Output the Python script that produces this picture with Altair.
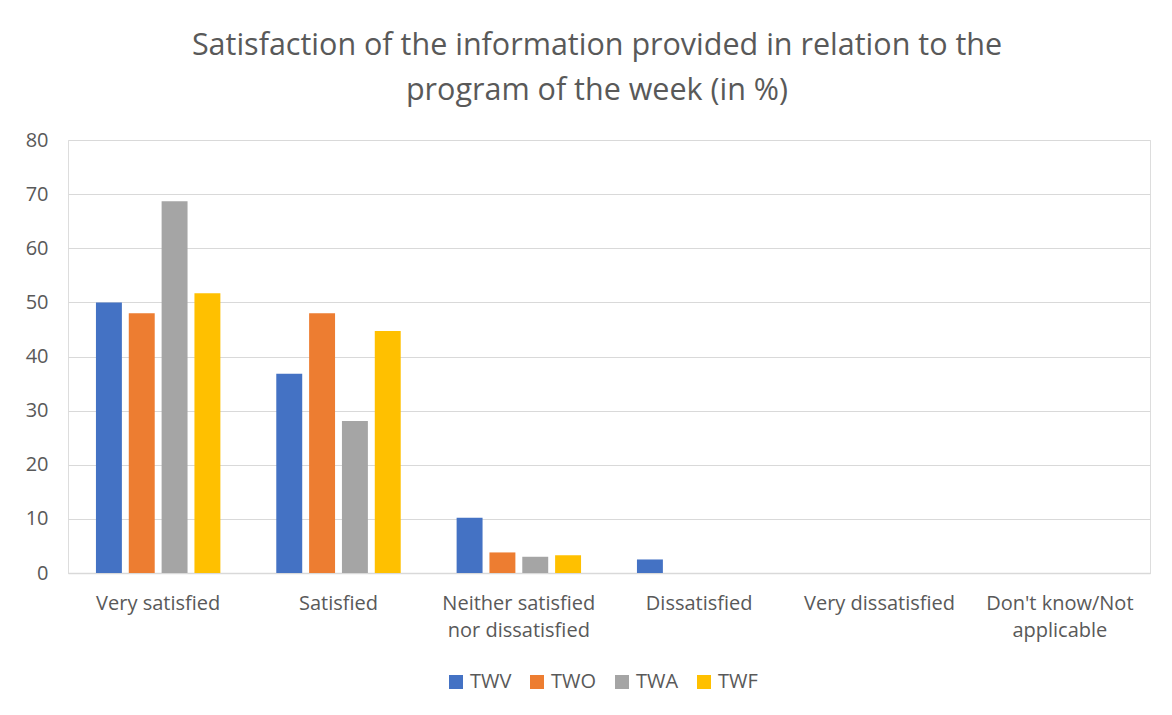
import altair as alt
import pandas as pd

categories = ["Very satisfied", "Satisfied", "Neither satisfied nor dissatisfied",
              "Dissatisfied", "Very dissatisfied", "Don't know/Not applicable"]
series = ["TWV", "TWO", "TWA", "TWF"]
twv = [50.0, 36.8, 10.2, 2.5, 0, 0]
two = [48.0, 48.0, 3.8, 0, 0, 0]
twa = [68.7, 28.1, 3.0, 0, 0, 0]
twf = [51.7, 44.7, 3.3, 0, 0, 0]
colors = ["#4472C4", "#ED7D31", "#A5A5A5", "#FFC000"]

rows = []
for s, vals in zip(series, [twv, two, twa, twf]):
    for c, v in zip(categories, vals):
        rows.append({"category": c, "series": s, "value": v})
df = pd.DataFrame(rows)

FONT = "Open Sans"
GRAY = "#595959"

label_expr = ("datum.label == 'Neither satisfied nor dissatisfied' ? ['Neither satisfied', 'nor dissatisfied'] : "
              "datum.label == \"Don't know/Not applicable\" ? ['Don\\'t know/Not', 'applicable'] : datum.label")

chart = alt.Chart(df).mark_bar().encode(
    x=alt.X("category:N", sort=categories, title=None,
            scale=alt.Scale(paddingInner=0.31, paddingOuter=0.155),
            axis=alt.Axis(labelAngle=0, labelExpr=label_expr, labelFontSize=20,
                          labelColor=GRAY, labelFont=FONT, ticks=False,
                          domainColor="#d9d9d9", domainWidth=1.5, labelPadding=20,
                          labelLineHeight=27, labelLimit=300)),
    xOffset=alt.XOffset("series:N", sort=series,
                        scale=alt.Scale(paddingInner=0.21, paddingOuter=0)),
    y=alt.Y("value:Q", title=None,
            scale=alt.Scale(domain=[0, 80]),
            axis=alt.Axis(values=list(range(0, 81, 10)), labelFontSize=20, labelColor=GRAY,
                          labelFont=FONT, ticks=False, domain=False, gridColor="#d9d9d9",
                          gridWidth=1.2, labelPadding=20)),
    color=alt.Color("series:N", sort=series,
                    scale=alt.Scale(domain=series, range=colors),
                    legend=alt.Legend(title=None, orient="none", direction="horizontal",
                                      legendX=378, legendY=532, symbolType="square",
                                      symbolSize=196, symbolStrokeWidth=0,
                                      labelFontSize=20, labelColor=GRAY, labelFont=FONT,
                                      columnPadding=15, labelOffset=4)),
).properties(
    width=1082, height=433,
    title=alt.TitleParams(
        text=["Satisfaction of the information provided in relation to the",
              "program of the week (in %)"],
        fontSize=30.5, font=FONT, color=GRAY, fontWeight="normal",
        lineHeight=45, offset=24, anchor="middle", dx=-12),
    autosize=alt.AutoSizeParams(type="none"),
    padding={"left": 60, "top": 132, "right": 14, "bottom": 120},
).configure_view(strokeWidth=0).configure(background="white")

chart.save("out.html", embed_options={"renderer": "svg", "actions": False})
